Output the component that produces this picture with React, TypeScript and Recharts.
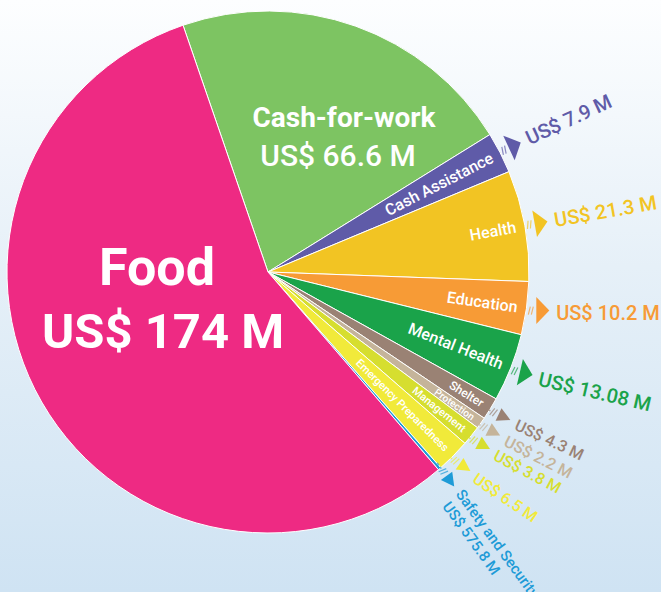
import { PieChart, Pie, Cell } from "recharts";

// Humanitarian spending by sector (US$ millions), drawn clockwise from the top
const categories = [
  "Cash-for-work",
  "Cash Assistance",
  "Health",
  "Education",
  "Mental Health",
  "Shelter",
  "Protection",
  "Management",
  "Emergency Preparedness",
  "Safety and Security",
  "Food",
];
const amounts = [66.6, 7.9, 21.3, 10.2, 13.08, 4.3, 2.2, 3.8, 6.5, 0.5758, 174];
const amountLabels = [
  "US$ 66.6 M",
  "US$ 7.9 M",
  "US$ 21.3 M",
  "US$ 10.2 M",
  "US$ 13.08 M",
  "US$ 4.3 M",
  "US$ 2.2 M",
  "US$ 3.8 M",
  "US$ 6.5 M",
  "US$ 575.8 M",
  "US$ 174 M",
];
const colors = [
  "#7DC462",
  "#5F5BA8",
  "#F2C423",
  "#F79B36",
  "#1AA34A",
  "#9A8274",
  "#C5B49A",
  "#D6DE2F",
  "#F1EA3A",
  "#1E9BD7",
  "#EE2A83",
];

const data = categories.map((name, i) => ({ name, value: amounts[i] }));

// label tweaks (font size of name inside slice, tilt of value callout)
const nameSize: Record<string, number> = {
  "Cash Assistance": 16,
  Health: 16,
  Education: 16,
  "Mental Health": 16,
  Shelter: 12,
  Protection: 10,
  Management: 11,
  "Emergency Preparedness": 11,
};
const valueTilt: Record<string, number> = {
  "Cash Assistance": -25,
  Health: -10,
  Education: 0,
  "Mental Health": 13,
  Shelter: 25,
  Protection: 27,
  Management: 28,
  "Emergency Preparedness": 34,
  "Safety and Security": 54,
};

const FONT = "Roboto, 'Noto Sans', sans-serif";
const RAD = Math.PI / 180;

function polar(cx: number, cy: number, r: number, deg: number) {
  return [cx + r * Math.cos(-deg * RAD), cy + r * Math.sin(-deg * RAD)];
}

function renderLabel(props: any) {
  const { cx, cy, midAngle, outerRadius, index } = props;
  const name = categories[index];
  const color = colors[index];
  const label = amountLabels[index];

  if (name === "Food") {
    return (
      <g key={name} fontFamily={FONT} textAnchor="middle">
        <text x={cx - 111} y={cy + 13} fontSize={52} fontWeight={700} fill="#fff">
          {name}
        </text>
        <text x={cx - 105} y={cy + 76} fontSize={49} fontWeight={700} fill="#fff">
          {label}
        </text>
      </g>
    );
  }
  if (name === "Cash-for-work") {
    return (
      <g key={name} fontFamily={FONT} textAnchor="middle">
        <text x={cx + 76} y={cy - 145} fontSize={28} fontWeight={700} fill="#fff">
          {name}
        </text>
        <text x={cx + 70} y={cy - 106} fontSize={30} fontWeight={500} fill="#fff">
          {label}
        </text>
      </g>
    );
  }

  const tilt = valueTilt[name] ?? 0;
  const big = amounts[index] >= 7;
  const [mx, my] = polar(cx, cy, outerRadius + 16, midAngle);
  const [tx, ty] = polar(cx, cy, outerRadius + 30, midAngle);
  const [nx, ny] = polar(cx, cy, outerRadius - 9, midAngle);
  const h = big ? 13.5 : 7;

  return (
    <g key={name} fontFamily={FONT}>
      {name !== "Safety and Security" && (
        <text
          x={nx}
          y={ny}
          transform={`rotate(${-midAngle} ${nx} ${ny})`}
          textAnchor="end"
          dominantBaseline="central"
          fontSize={nameSize[name] ?? 12}
          fontWeight={500}
          fill="#fff"
        >
          {name}
        </text>
      )}
      <g transform={`translate(${mx} ${my}) rotate(${tilt})`}>
        <polygon points={`-6,${-h} 7,0 -6,${h}`} fill={color} />
        <line x1={-9} y1={-4} x2={-11} y2={4} stroke={color} strokeWidth={1.2} opacity={0.7} />
        <line x1={-12} y1={-4} x2={-14} y2={4} stroke={color} strokeWidth={1.2} opacity={0.7} />
        {!big && (
          <line x1={-22} y1={0} x2={-15} y2={0} stroke={color} strokeWidth={1.5} strokeDasharray="3 2" opacity={0.7} />
        )}
      </g>
      {name === "Safety and Security" ? (
        <g transform={`translate(${tx} ${ty}) rotate(${tilt})`} fill={color} fontSize={15} fontWeight={500}>
          <text x={0} y={0} dominantBaseline="central">
            {name}
          </text>
          <text x={2} y={18} dominantBaseline="central">
            {label}
          </text>
        </g>
      ) : (
        <text
          x={tx}
          y={ty}
          transform={`rotate(${tilt} ${tx} ${ty})`}
          dominantBaseline="central"
          fontSize={big ? 20 : 16}
          fontWeight={500}
          fill={color}
        >
          {label}
        </text>
      )}
    </g>
  );
}

export default function App() {
  return (
    <div
      style={{
        position: "absolute",
        left: 0,
        top: 0,
        width: 661,
        height: 592,
        overflow: "hidden",
        background: "linear-gradient(to bottom, #FDFEFF 0%, #E6F0F8 45%, #CFE3F3 100%)",
      }}
    >
      <PieChart width={661} height={592} margin={{ top: 0, right: 0, bottom: 0, left: 0 }}>
        <Pie
          data={data}
          dataKey="value"
          nameKey="name"
          cx={268}
          cy={272}
          outerRadius={261}
          startAngle={109}
          endAngle={-251}
          stroke="#fff"
          strokeWidth={1}
          label={renderLabel}
          labelLine={false}
          isAnimationActive={false}
        >
          {data.map((d, i) => (
            <Cell key={d.name} fill={colors[i]} />
          ))}
        </Pie>
      </PieChart>
    </div>
  );
}
